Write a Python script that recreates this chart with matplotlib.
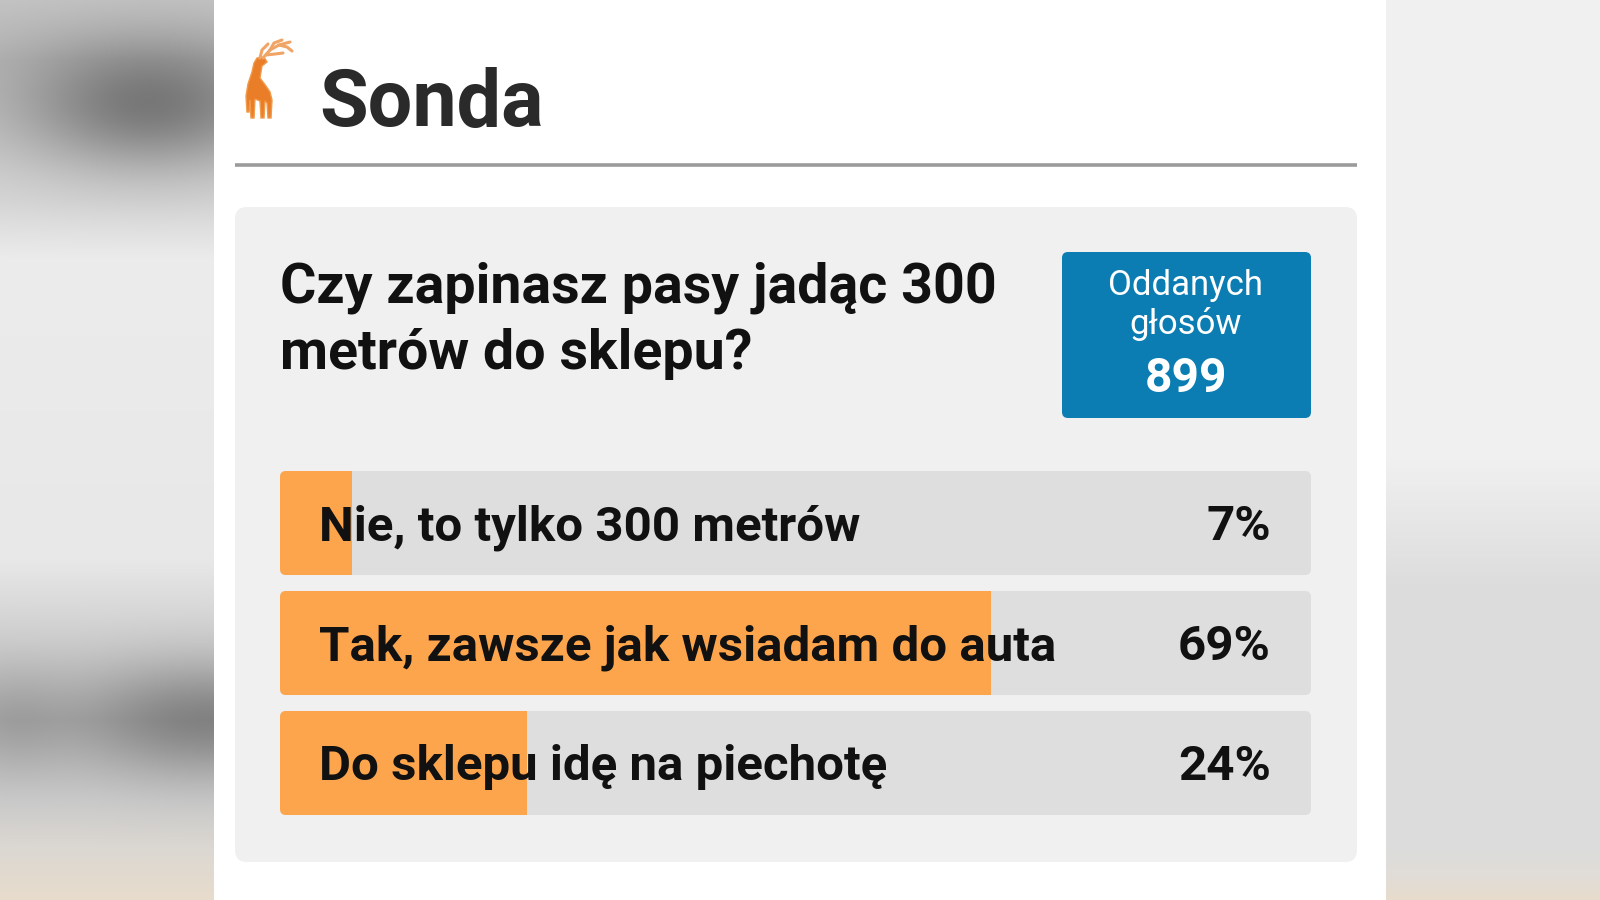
import numpy as np
import matplotlib
matplotlib.use("Agg")
import matplotlib.pyplot as plt
from matplotlib.patches import FancyBboxPatch, Rectangle, Polygon

# ---------------- data ----------------
title = "Sonda"
question_lines = ["Czy zapinasz pasy jadąc 300", "metrów do sklepu?"]
categories = ["Nie, to tylko 300 metrów",
              "Tak, zawsze jak wsiadam do auta",
              "Do sklepu idę na piechotę"]
percent = [7, 69, 24]
votes_label = ["Oddanych", "głosów"]
total_votes = 899

# ---------------- style ----------------
FONT = "Roboto"
ORANGE = "#fda54c"
TRACK = "#dedede"
CARD = "#f0f0f0"
BLUE = "#0b7db3"
TEXT = "#111111"

W, H = 1600, 900
fig = plt.figure(figsize=(16, 9), dpi=100)
ax = fig.add_axes([0, 0, 1, 1])
ax.set_xlim(0, W)
ax.set_ylim(H, 0)
ax.axis("off")

# ---------------- blurred side backgrounds ----------------
def gradient_strip(x0, x1, stops_y, stops_c, blobs):
    ys = np.arange(H) + 0.5
    xs = np.arange(x0, x1) + 0.5
    cols = np.array([[int(c[i:i + 2], 16) / 255 for i in (1, 3, 5)] for c in stops_c])
    base = np.stack([np.interp(ys, stops_y, cols[:, k]) for k in range(3)], axis=-1)
    img = np.repeat(base[:, None, :], len(xs), axis=1)
    X, Y = np.meshgrid(xs, ys)
    dark = np.zeros_like(X)
    for cx, cy, sx, sy, s in blobs:
        dark += s * np.exp(-((X - cx) ** 2 / (2 * sx ** 2) + (Y - cy) ** 2 / (2 * sy ** 2)))
    img = img * (1 - np.clip(dark, 0, 0.7))[..., None]
    return np.clip(img, 0, 1)

left_img = gradient_strip(
    0, 214,
    [0, 60, 200, 260, 560, 640, 720, 800, 850, 900],
    ["#c4c4c4", "#b8b8b8", "#d6d6d6", "#ececec", "#e8e8e8", "#cfcfcf",
     "#b4b4b4", "#cccccc", "#dcd8d2", "#e8dccc"],
    [(150, 105, 90, 45, 0.38), (205, 720, 90, 40, 0.28), (10, 720, 40, 40, 0.10)])
ax.imshow(left_img, extent=(0, 214, H, 0), aspect="auto", zorder=0)

right_img = gradient_strip(
    1386, W,
    [0, 460, 590, 850, 880, 900],
    ["#f0f0f0", "#f0f0f0", "#dcdcdc", "#dcdcdc", "#e2ddd6", "#e8dccc"],
    [])
ax.imshow(right_img, extent=(1386, W, H, 0), aspect="auto", zorder=0)

# white page
ax.add_patch(Rectangle((214, 0), 1386 - 214, H, facecolor="white", edgecolor="none", zorder=1))

# ---------------- header ----------------
deer_body = [(257, 58), (264, 57), (267, 62), (262, 66), (260, 78), (266, 86),
             (270, 92), (272, 100), (271, 118), (268, 118), (267, 103), (265, 101),
             (264, 118), (261, 118), (260, 101), (255, 99), (254, 118), (251, 118),
             (250, 100), (249, 112), (247, 112), (246, 96), (248, 84), (252, 72), (254, 63)]
ax.add_patch(Polygon(deer_body, closed=True, facecolor="#e97d28", edgecolor="#f09a4a",
                     linewidth=1, zorder=3))
antlers = [[(263, 58), (270, 50), (279, 45), (290, 42)],
           [(270, 50), (274, 43), (282, 40)],
           [(279, 45), (287, 47), (292, 51)],
           [(266, 55), (275, 54), (283, 53)],
           [(260, 58), (262, 50), (268, 44)]]
for seg in antlers:
    xs, ys = zip(*seg)
    ax.plot(xs, ys, color="#f0a566", linewidth=2.2, solid_capstyle="round", zorder=3)

ax.text(319, 126, title, fontsize=57, fontweight="bold", family=FONT,
        color="#2a2a2a", va="baseline", ha="left", zorder=3)
ax.plot([235, 1357], [165, 165], color="#9b9b9b", linewidth=2.6, zorder=3,
        solid_capstyle="butt")

# ---------------- card ----------------
ax.add_patch(FancyBboxPatch((235, 207), 1122, 655, boxstyle="round,pad=0,rounding_size=12",
                            facecolor=CARD, edgecolor="none", zorder=2))

for i, line in enumerate(question_lines):
    ax.text(280, 302 + 67 * i, line, fontsize=40, fontweight="bold", family=FONT,
            color=TEXT, va="baseline", ha="left", zorder=3)

# votes box
ax.add_patch(FancyBboxPatch((1062, 252), 249, 166, boxstyle="round,pad=0,rounding_size=6",
                            facecolor=BLUE, edgecolor="none", zorder=3))
ax.text(1186, 295, votes_label[0], fontsize=25, family=FONT, color="white",
        ha="center", va="baseline", zorder=4)
ax.text(1186, 334, votes_label[1], fontsize=25, family=FONT, color="white",
        ha="center", va="baseline", zorder=4)
ax.text(1186, 392, f"{total_votes}", fontsize=34.5, fontweight="bold", family=FONT,
        color="white", ha="center", va="baseline", zorder=4)

# ---------------- bars ----------------
bx_left, bx_top, bx_w, bx_h = 280, 471, 1031, 344
bx = fig.add_axes([bx_left / W, 1 - (bx_top + bx_h) / H, bx_w / W, bx_h / H])
bx.set_xlim(0, 100)
bar_h = 0.867
bx.set_ylim(len(categories) - 1 + bar_h / 2, -bar_h / 2)
bx.axis("off")
bx.patch.set_alpha(0)

px_per_x = bx_w / 100
px_per_y = bx_h / (len(categories) - 1 + bar_h)
r = 6
for i, (cat, p) in enumerate(zip(categories, percent)):
    track = FancyBboxPatch((0, i - bar_h / 2), 100, bar_h,
                           boxstyle=f"round,pad=0,rounding_size={r / px_per_x}",
                           mutation_aspect=px_per_x / px_per_y,
                           facecolor=TRACK, edgecolor="none", zorder=1)
    bx.add_patch(track)
    bars = bx.barh(i, p, height=bar_h, color=ORANGE, zorder=2)
    for b in bars:
        b.set_clip_path(track)
    bx.text(3.75, i + 0.145, cat, fontsize=35.5, fontweight="bold", family=FONT,
            color=TEXT, va="baseline", ha="left", zorder=3)
    bx.text(96.1, i + 0.145, f"{p}%", fontsize=35.5, fontweight="bold", family=FONT,
            color=TEXT, va="baseline", ha="right", zorder=3)

fig.savefig("out.png", dpi=100)
